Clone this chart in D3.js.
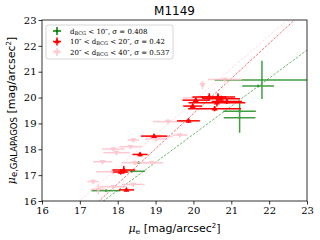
<!doctype html>
<html>
<head>
<meta charset="utf-8">
<script src="https://d3js.org/d3.v7.min.js"></script>
<style>
  body { margin: 0; background: #fff; }
  svg { display: block; }
</style>
</head>
<body>
<script>
  // x, y, xerr, yerr
  var greenPts = [
    [21.81, 20.68, 1.25, 0.74],
    [21.71, 20.45, 0.42, 0.05],
    [21.22, 19.47, 0.43, 0.05],
    [21.22, 19.22, 0.42, 0.58],
    [18.55, 17.48, 0.05, 0.05],
    [18.37, 17.15, 0.35, 0.05],
    [17.69, 16.40, 0.38, 0.05]
  ];
  var redPts = [
    [20.42, 20.02, 0.45, 0.15],
    [20.65, 20.02, 0.45, 0.15],
    [20.73, 19.95, 0.50, 0.12],
    [20.88, 19.85, 0.40, 0.10],
    [20.06, 19.90, 0.35, 0.10],
    [19.98, 19.67, 0.25, 0.10],
    [20.62, 19.80, 0.75, 0.15],
    [20.56, 19.57, 0.70, 0.10],
    [19.87, 19.10, 0.30, 0.08],
    [18.96, 18.51, 0.35, 0.05],
    [18.59, 17.80, 0.20, 0.08],
    [18.16, 17.20, 0.30, 0.15],
    [18.08, 17.12, 0.20, 0.10],
    [18.23, 16.43, 0.20, 0.06]
  ];
  var pinkPts = [
    [20.83, 20.70, 0.45, 0.08],
    [20.24, 20.49, 0.05, 0.15],
    [20.17, 19.98, 0.45, 0.10],
    [19.33, 19.07, 0.40, 0.08],
    [19.10, 18.49, 0.35, 0.08],
    [19.02, 18.40, 0.30, 0.10],
    [19.64, 18.55, 0.20, 0.06],
    [18.41, 18.36, 0.15, 0.08],
    [18.34, 18.10, 0.30, 0.06],
    [17.88, 18.01, 0.30, 0.06],
    [17.97, 17.87, 0.35, 0.08],
    [17.60, 17.52, 0.25, 0.05],
    [18.45, 17.48, 0.35, 0.08],
    [18.90, 17.48, 0.30, 0.08],
    [17.88, 17.13, 0.45, 0.10],
    [18.41, 16.64, 0.30, 0.05],
    [17.35, 16.75, 0.15, 0.08],
    [17.49, 16.45, 0.20, 0.20],
    [17.88, 16.55, 0.35, 0.06]
  ];
  // fitted lines: slope, intercept
  var fits = [
    { color: 'green', slope: 1.085, icpt: -3.12 },
    { color: 'red', slope: 1.357, icpt: -7.76 },
    { color: 'pink', slope: 1.277, icpt: -5.70 }
  ];
  var ticks = [16, 17, 18, 19, 20, 21, 22, 23];
  var legendRows = [
    { color: 'green', marker: 'dot', pre: 'd', sub: 'BCG', post: ' < 10\u2033, \u03c3 = 0.408' },
    { color: 'red', marker: 'up', pre: '10\u2033 < d', sub: 'BCG', post: ' < 20\u2033, \u03c3 = 0.42' },
    { color: 'pink', marker: 'down', pre: '20\u2033 < d', sub: 'BCG', post: ' < 40\u2033, \u03c3 = 0.537' }
  ];

  var W = 320, H = 240;
  var m = { l: 42, r: 13, t: 20, b: 39 };
  var svg = d3.select('body').append('svg').attr('width', W).attr('height', H);

  var x = d3.scaleLinear().domain([16, 23]).range([m.l, W - m.r]);
  var y = d3.scaleLinear().domain([16, 23]).range([H - m.b, m.t]);

  svg.append('clipPath').attr('id', 'clip').append('rect')
    .attr('x', m.l).attr('y', m.t).attr('width', W - m.l - m.r).attr('height', H - m.t - m.b);

  var plot = svg.append('g').attr('clip-path', 'url(#clip)');

  // dashed fit lines
  fits.forEach(function(f) {
    plot.append('line')
      .attr('x1', x(16)).attr('y1', y(f.slope * 16 + f.icpt))
      .attr('x2', x(23)).attr('y2', y(f.slope * 23 + f.icpt))
      .attr('stroke', f.color).attr('stroke-width', 0.8)
      .attr('stroke-dasharray', '2.5,1.5').attr('opacity', 0.7);
  });

  function triangle(cx, cy, s, up) {
    var d = up ? -1 : 1;
    return 'M' + (cx - s) + ',' + (cy - d * s * 0.6) + 'L' + (cx + s) + ',' + (cy - d * s * 0.6) +
      'L' + cx + ',' + (cy + d * s) + 'Z';
  }

  function drawSet(pts, color, marker, alpha) {
    var g = plot.append('g').attr('opacity', alpha);
    pts.forEach(function(p) {
      g.append('line').attr('x1', x(p[0] - p[2])).attr('x2', x(p[0] + p[2]))
        .attr('y1', y(p[1])).attr('y2', y(p[1]))
        .attr('stroke', color).attr('stroke-width', 1.5);
      g.append('line').attr('x1', x(p[0])).attr('x2', x(p[0]))
        .attr('y1', y(p[1] - p[3])).attr('y2', y(p[1] + p[3]))
        .attr('stroke', color).attr('stroke-width', 1.5);
      if (marker == 'dot') {
        g.append('circle').attr('cx', x(p[0])).attr('cy', y(p[1])).attr('r', 1.2).attr('fill', color);
      } else {
        g.append('path').attr('d', triangle(x(p[0]), y(p[1]), 3, marker == 'up')).attr('fill', color);
      }
    });
  }

  drawSet(greenPts, 'green', 'dot', 0.75);
  drawSet(pinkPts, 'pink', 'down', 0.85);
  drawSet(redPts, 'red', 'up', 1);

  // axes
  var fmt = d3.format('d');
  var xAxis = svg.append('g').attr('transform', 'translate(0,' + (H - m.b) + ')')
    .call(d3.axisBottom(x).tickValues(ticks).tickFormat(fmt).tickSize(3.5).tickPadding(2));
  var yAxis = svg.append('g').attr('transform', 'translate(' + m.l + ',0)')
    .call(d3.axisLeft(y).tickValues(ticks).tickFormat(fmt).tickSize(3.5).tickPadding(2));
  [xAxis, yAxis].forEach(function(a) {
    a.select('.domain').remove();
    a.selectAll('line').attr('stroke', '#000').attr('stroke-width', 0.8);
    a.selectAll('text').attr('font-family', 'DejaVu Serif, serif').attr('font-size', 10).attr('fill', '#000');
  });

  svg.append('rect').attr('x', m.l).attr('y', m.t)
    .attr('width', W - m.l - m.r).attr('height', H - m.t - m.b)
    .attr('fill', 'none').attr('stroke', '#000').attr('stroke-width', 0.8);

  // title
  svg.append('text').attr('x', (m.l + W - m.r) / 2).attr('y', 15)
    .attr('text-anchor', 'middle').attr('font-family', 'DejaVu Sans, sans-serif')
    .attr('font-size', 12).text('M1149');

  // x label
  var xl = svg.append('text').attr('x', (m.l + W - m.r) / 2).attr('y', 232)
    .attr('text-anchor', 'middle').attr('font-family', 'DejaVu Sans, sans-serif').attr('font-size', 11);
  xl.append('tspan').attr('font-family', 'DejaVu Serif, serif').attr('font-style', 'italic').text('\u03bc');
  xl.append('tspan').attr('font-family', 'DejaVu Serif, serif').attr('font-size', 8).attr('dy', 2).text('e');
  xl.append('tspan').attr('dy', -2).text(' [mag/arcsec');
  xl.append('tspan').attr('font-size', 7).attr('dy', -4).text('2');
  xl.append('tspan').attr('dy', 4).text(']');

  // y label
  var yl = svg.append('text').attr('transform', 'translate(15,' + ((m.t + H - m.b) / 2) + ') rotate(-90)')
    .attr('text-anchor', 'middle').attr('font-family', 'DejaVu Sans, sans-serif').attr('font-size', 11);
  yl.append('tspan').attr('font-family', 'DejaVu Serif, serif').attr('font-style', 'italic').text('\u03bc');
  yl.append('tspan').attr('font-size', 8.5).attr('dy', 2).text('e,GALAPAGOS');
  yl.append('tspan').attr('dy', -2).text(' [mag/arcsec');
  yl.append('tspan').attr('font-size', 7).attr('dy', -4).text('2');
  yl.append('tspan').attr('dy', 4).text(']');

  // legend
  var lg = svg.append('g');
  lg.append('rect').attr('x', 46).attr('y', 25).attr('width', 127).attr('height', 34).attr('rx', 2)
    .attr('fill', '#fff').attr('fill-opacity', 0.8).attr('stroke', '#ccc').attr('stroke-width', 0.8);
  legendRows.forEach(function(r, i) {
    var cy = 31 + i * 10.5, cx = 57;
    var g = lg.append('g').attr('opacity', r.color == 'pink' ? 0.85 : 1);
    g.append('line').attr('x1', cx - 4).attr('x2', cx + 4).attr('y1', cy).attr('y2', cy)
      .attr('stroke', r.color).attr('stroke-width', 1.5);
    g.append('line').attr('x1', cx).attr('x2', cx).attr('y1', cy - 4).attr('y2', cy + 4)
      .attr('stroke', r.color).attr('stroke-width', 1.5);
    if (r.marker == 'dot') g.append('circle').attr('cx', cx).attr('cy', cy).attr('r', 1.2).attr('fill', r.color);
    else g.append('path').attr('d', triangle(cx, cy, 3, r.marker == 'up')).attr('fill', r.color);
    var t = lg.append('text').attr('x', 70).attr('y', cy + 2.5)
      .attr('font-family', 'DejaVu Serif, serif').attr('font-size', 7);
    t.append('tspan').text(r.pre);
    t.append('tspan').attr('font-size', 5).attr('dy', 1).text(r.sub);
    t.append('tspan').attr('dy', -1).text(r.post);
  });
</script>
</body>
</html>
